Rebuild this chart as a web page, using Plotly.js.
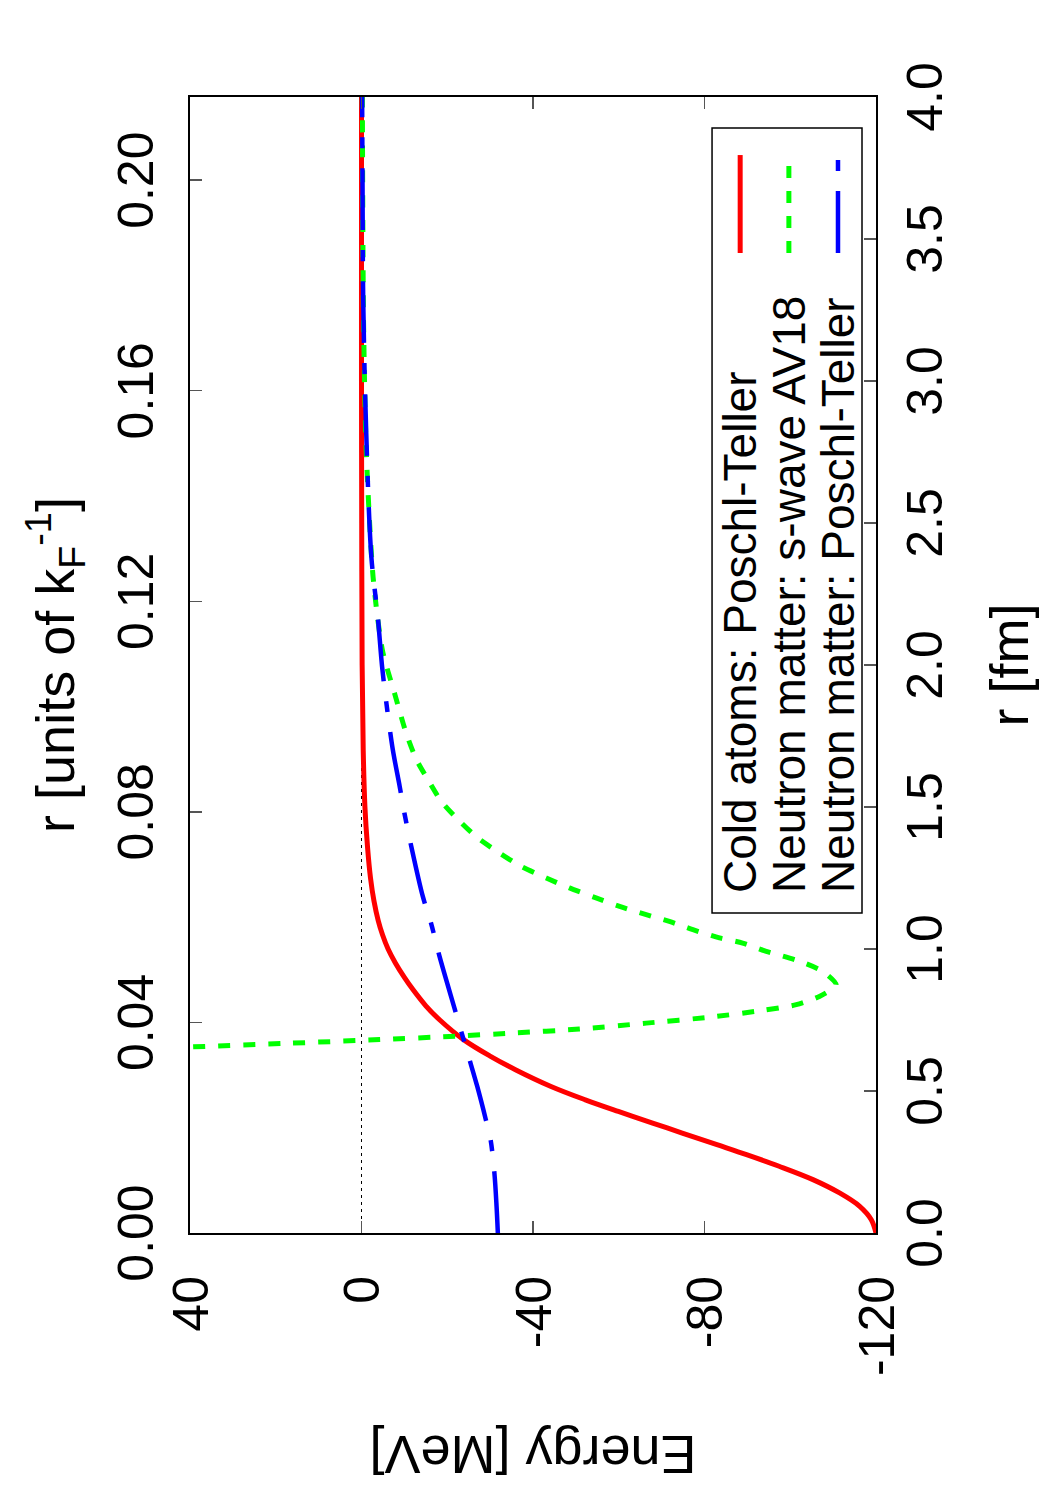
<!DOCTYPE html>
<html><head><meta charset="utf-8">
<script src="https://cdn.plot.ly/plotly-3.0.1.min.js"></script>
<style>
html,body{margin:0;padding:0;overflow:hidden;background:#fff;width:1050px;height:1500px;}
#wrap{position:absolute;left:0;top:0;width:1500px;height:1050px;transform-origin:0 0;transform:translateY(1500px) rotate(-90deg);}
</style></head><body><div id="wrap"></div>
<script>
// r in fm, energy in MeV
const rRed = [0, 0.047, 0.094, 0.141, 0.188, 0.235, 0.276, 0.311, 0.352, 0.387, 0.428, 0.469, 0.516, 0.575, 0.622, 0.681, 0.751, 0.80, 0.857, 0.90, 0.951, 1.0, 1.05, 1.10, 1.17, 1.25, 1.36, 1.5, 1.7, 2.0, 2.5, 3.0, 3.5, 4.0];
const eRed = [-120, -118.9, -116.2, -111.5, -105.3, -97.4, -89.8, -82.9, -74.8, -67.9, -59.9, -52.2, -44.2, -35.9, -30.1, -23.8, -18.2, -15.0, -12.0, -10.0, -7.9, -6.2, -4.9, -3.9, -2.9, -2.1, -1.4, -0.8, -0.4, -0.15, -0.05, 0, 0, 0];

const rGreen = [0.63, 0.655, 0.668, 0.681, 0.692, 0.704, 0.718, 0.739, 0.761, 0.784, 0.804, 0.833, 0.874, 0.921, 0.957, 0.992, 1.021, 1.039, 1.068, 1.097, 1.121, 1.150, 1.180, 1.215, 1.250, 1.291, 1.338, 1.391, 1.450, 1.520, 1.596, 1.667, 1.761, 1.901, 2.05, 2.31, 2.758, 3.216, 3.6, 4.0];
const eGreen = [80, 40, 17, -4.2, -20.5, -35.3, -50.8, -66.4, -81.9, -93.6, -101.4, -106.8, -110.7, -107.6, -102.2, -94.4, -88.9, -83.5, -77.3, -71.8, -66.4, -60.2, -54.7, -48.5, -43.1, -37.2, -32.2, -27.1, -22.9, -18.6, -15.5, -12.8, -10.4, -7.7, -4.9, -2.7, -1.1, -0.47, -0.3, -0.2];

const rBlue = [0, 0.094, 0.211, 0.329, 0.399, 0.516, 0.610, 0.692, 0.786, 0.974, 1.092, 1.185, 1.362, 1.479, 1.573, 1.702, 1.866, 1.995, 2.17, 2.381, 2.818, 3.286, 3.67, 4.0];
const eBlue = [-31.8, -31.5, -31.0, -30.1, -29.0, -27.0, -25.2, -23.6, -21.8, -18.2, -16.2, -14.3, -11.6, -10.0, -8.9, -7.3, -5.8, -4.8, -3.8, -2.3, -1.1, -0.4, -0.25, -0.15];

const zeroR = [0, 4];
const zeroE = [0, 0];

const seriesNames = ["Cold atoms: Poschl-Teller", "Neutron matter: s-wave AV18", "Neutron matter: Poschl-Teller"];
const energyTicks = [-120, -80, -40, 0, 40];
const energyTickText = ["-120", "-80", "-40", "0", "40"];
const kFPerFm = 0.05395; // top axis: r in units of kF^-1

const FONT = "Liberation Sans, Arial, Helvetica, sans-serif";
const GREEN_DASH = '12px,13px';
const BLUE_DASH = '62px,20px,11px,20px';

const traces = [
  {x: zeroR, y: zeroE, mode: 'lines', line: {color: 'black', width: 1, dash: '3px,4px'}, showlegend: false, hoverinfo: 'skip'},
  {x: rRed, y: eRed, name: seriesNames[0], mode: 'lines', line: {color: '#ff0000', width: 5, shape: 'spline', smoothing: 1}, showlegend: false},
  {x: rGreen, y: eGreen, name: seriesNames[1], mode: 'lines', line: {color: '#00ff00', width: 5, dash: GREEN_DASH, shape: 'spline', smoothing: 0.7}, showlegend: false},
  {x: rBlue, y: eBlue, name: seriesNames[2], mode: 'lines', line: {color: '#0000ff', width: 4.5, dash: BLUE_DASH, shape: 'spline', smoothing: 0.9}, showlegend: false},
  {x: rRed.map(r => r * kFPerFm), y: eRed, xaxis: 'x2', mode: 'lines', opacity: 0, showlegend: false, hoverinfo: 'skip'}
];

const legendRows = [0.198, 0.127, 0.0554];
const legendColors = ['#ff0000', '#00ff00', '#0000ff'];
const legendDash = ['solid', GREEN_DASH, BLUE_DASH];
const legendWidth = [5, 5, 4.5];

const shapes = [{type: 'rect', xref: 'paper', yref: 'paper', x0: 0.2817, x1: 0.9727, y0: 0.0204, y1: 0.239, line: {color: 'black', width: 1.5}, fillcolor: 'rgba(0,0,0,0)'}];
const annotations = [];
seriesNames.forEach((n, i) => {
  shapes.push({type: 'line', xref: 'paper', yref: 'paper', x0: 0.8627, x1: 0.9489, y0: legendRows[i], y1: legendRows[i], line: {color: legendColors[i], width: legendWidth[i], dash: legendDash[i]}});
  annotations.push({xref: 'paper', yref: 'paper', x: 0.2975, y: legendRows[i], xanchor: 'left', yanchor: 'middle', text: n, showarrow: false, font: {family: FONT, size: 46, color: 'black'}});
});

const layout = {
  width: 1500, height: 1050,
  margin: {l: 267, r: 97, t: 190, b: 174},
  paper_bgcolor: 'white', plot_bgcolor: 'white',
  font: {family: FONT, size: 50, color: 'black'},
  showlegend: false,
  xaxis: {range: [0, 4], tick0: 0, dtick: 0.5, tickformat: '.1f', ticks: 'inside', ticklen: 12, tickwidth: 1.5, tickcolor: '#555',
    showline: true, linewidth: 2, linecolor: 'black', mirror: true, showgrid: false, zeroline: false,
    tickfont: {family: FONT, size: 50}, ticklabelstandoff: 4,
    title: {text: 'r [fm]', font: {family: FONT, size: 54}, standoff: 38}},
  xaxis2: {overlaying: 'x', side: 'top', range: [0, 4 * kFPerFm], tick0: 0, dtick: 0.04, tickformat: '.2f', ticks: 'inside', ticklen: 12, tickwidth: 1.5, tickcolor: '#555',
    showline: false, showgrid: false, zeroline: false, tickfont: {family: FONT, size: 50}, ticklabelstandoff: 26,
    title: {text: 'r [units of k<sub>F</sub><sup>-1</sup>]', font: {family: FONT, size: 54}, standoff: 16}},
  yaxis: {range: [-120, 40], tickvals: energyTicks, ticktext: energyTickText, ticks: 'inside', ticklen: 12, tickwidth: 1.5, tickcolor: '#555',
    showline: true, linewidth: 2, linecolor: 'black', mirror: 'ticks', showgrid: false, zeroline: false,
    tickfont: {family: FONT, size: 50}, ticklabelstandoff: 31,
    title: {text: 'Energy [MeV]', font: {family: FONT, size: 54}, standoff: 42}},
  shapes: shapes,
  annotations: annotations
};

Plotly.newPlot('wrap', traces, layout, {staticPlot: true, displayModeBar: false, responsive: false});
</script></body></html>
